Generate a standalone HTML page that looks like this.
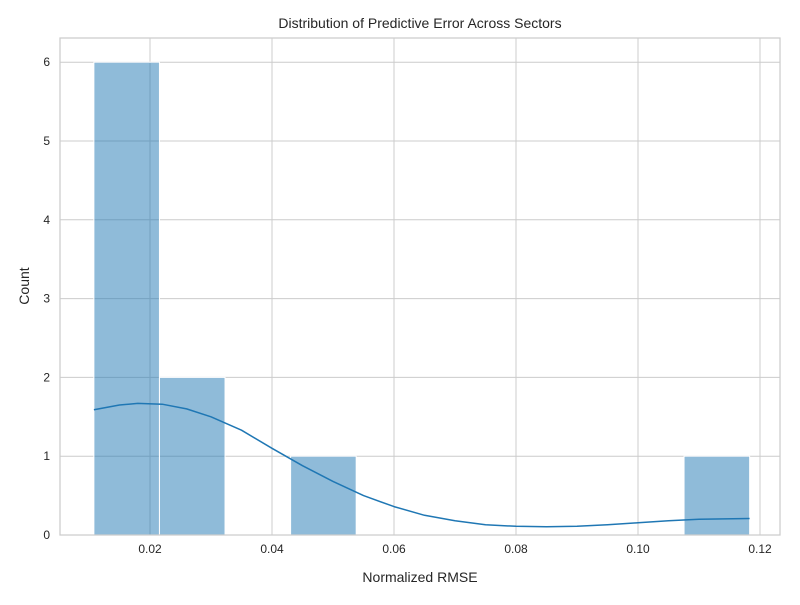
<!DOCTYPE html>
<html><head><meta charset="utf-8"><style>
body{margin:0;background:#fff;font-family:"Liberation Sans","DejaVu Sans",sans-serif}
</style></head><body>
<svg width="800" height="600" xmlns="http://www.w3.org/2000/svg" font-family="Liberation Sans, DejaVu Sans, sans-serif">
<g id="grid"></g><g id="bars"></g><g id="kde"></g><g id="axes"></g>
</svg>
<script>
const binEdges=[0.0108,0.02155,0.0323,0.04305,0.0538,0.06455,0.0753,0.08605,0.0968,0.10755,0.1183];
const counts=[6,2,0,1,0,0,0,0,0,1];
const xTicks=[0.02,0.04,0.06,0.08,0.10,0.12];
const xTickLabels=["0.02","0.04","0.06","0.08","0.10","0.12"];
const yTicks=[0,1,2,3,4,5,6];
const kdeX=[0.0108,0.015,0.018,0.022,0.026,0.03,0.035,0.04,0.045,0.05,0.055,0.06,0.065,0.07,0.075,0.08,0.085,0.09,0.095,0.1,0.105,0.11,0.1183];
const kdeY=[1.59,1.65,1.67,1.66,1.6,1.5,1.33,1.1,0.88,0.68,0.5,0.36,0.25,0.18,0.13,0.11,0.105,0.11,0.13,0.155,0.18,0.2,0.21];
const L=60,R=780,T=38,B=535;
const sx=v=>28+v*6100, sy=v=>B-v*78.8;
const NS="http://www.w3.org/2000/svg";
function mk(tag,attrs,parent,text){const e=document.createElementNS(NS,tag);for(const k in attrs)e.setAttribute(k,attrs[k]);if(text!==undefined)e.textContent=text;parent.appendChild(e);return e;}
const grid=document.getElementById('grid'),bars=document.getElementById('bars'),kde=document.getElementById('kde'),axes=document.getElementById('axes');
xTicks.forEach((t,i)=>{
 const g=mk('line',{x1:sx(t),x2:sx(t),y1:T,y2:B,stroke:'#cccccc','stroke-width':1},grid);
 
 
 const l=mk('text',{x:sx(t),y:B+18,'text-anchor':'middle','font-size':12,fill:'#262626'},axes,xTickLabels[i]);
 
 
});
yTicks.forEach(t=>{
 const g=mk('line',{x1:L,x2:R,y1:sy(t),y2:sy(t),stroke:'#cccccc','stroke-width':1},grid);
 
 
 const l=mk('text',{x:L-10,y:sy(t)+4,'text-anchor':'end','font-size':12,fill:'#262626'},axes,String(t));
 
 
});
counts.forEach((c,i)=>{
 if(c<=0)return;
 const x0=sx(binEdges[i]),x1=sx(binEdges[i+1]);
 const r=mk('rect',{x:x0,y:sy(c),width:x1-x0,height:B-sy(c),fill:'rgba(31,119,180,0.5)',stroke:'#fff','stroke-width':1},bars);
 
 
});
let d='';kdeX.forEach((x,i)=>{d+=(i?'L':'M')+sx(x).toFixed(1)+','+sy(kdeY[i]).toFixed(1);});
const p=mk('path',{d:d,fill:'none',stroke:'#1f77b4','stroke-width':1.5,'stroke-linejoin':'round'},kde);


const fr=mk('rect',{x:L,y:T,width:R-L,height:B-T,fill:'none',stroke:'#cccccc','stroke-width':1.25},axes);


const tt=mk('text',{x:420,y:28,'text-anchor':'middle','font-size':14,fill:'#262626'},axes,'Distribution of Predictive Error Across Sectors');


const xl=mk('text',{x:420,y:582,'text-anchor':'middle','font-size':14,fill:'#262626'},axes,'Normalized RMSE');


const yl=mk('text',{x:29,y:286,'text-anchor':'middle','font-size':14,fill:'#262626',transform:'rotate(-90 29 286)'},axes,'Count');


</script>
</body></html>
